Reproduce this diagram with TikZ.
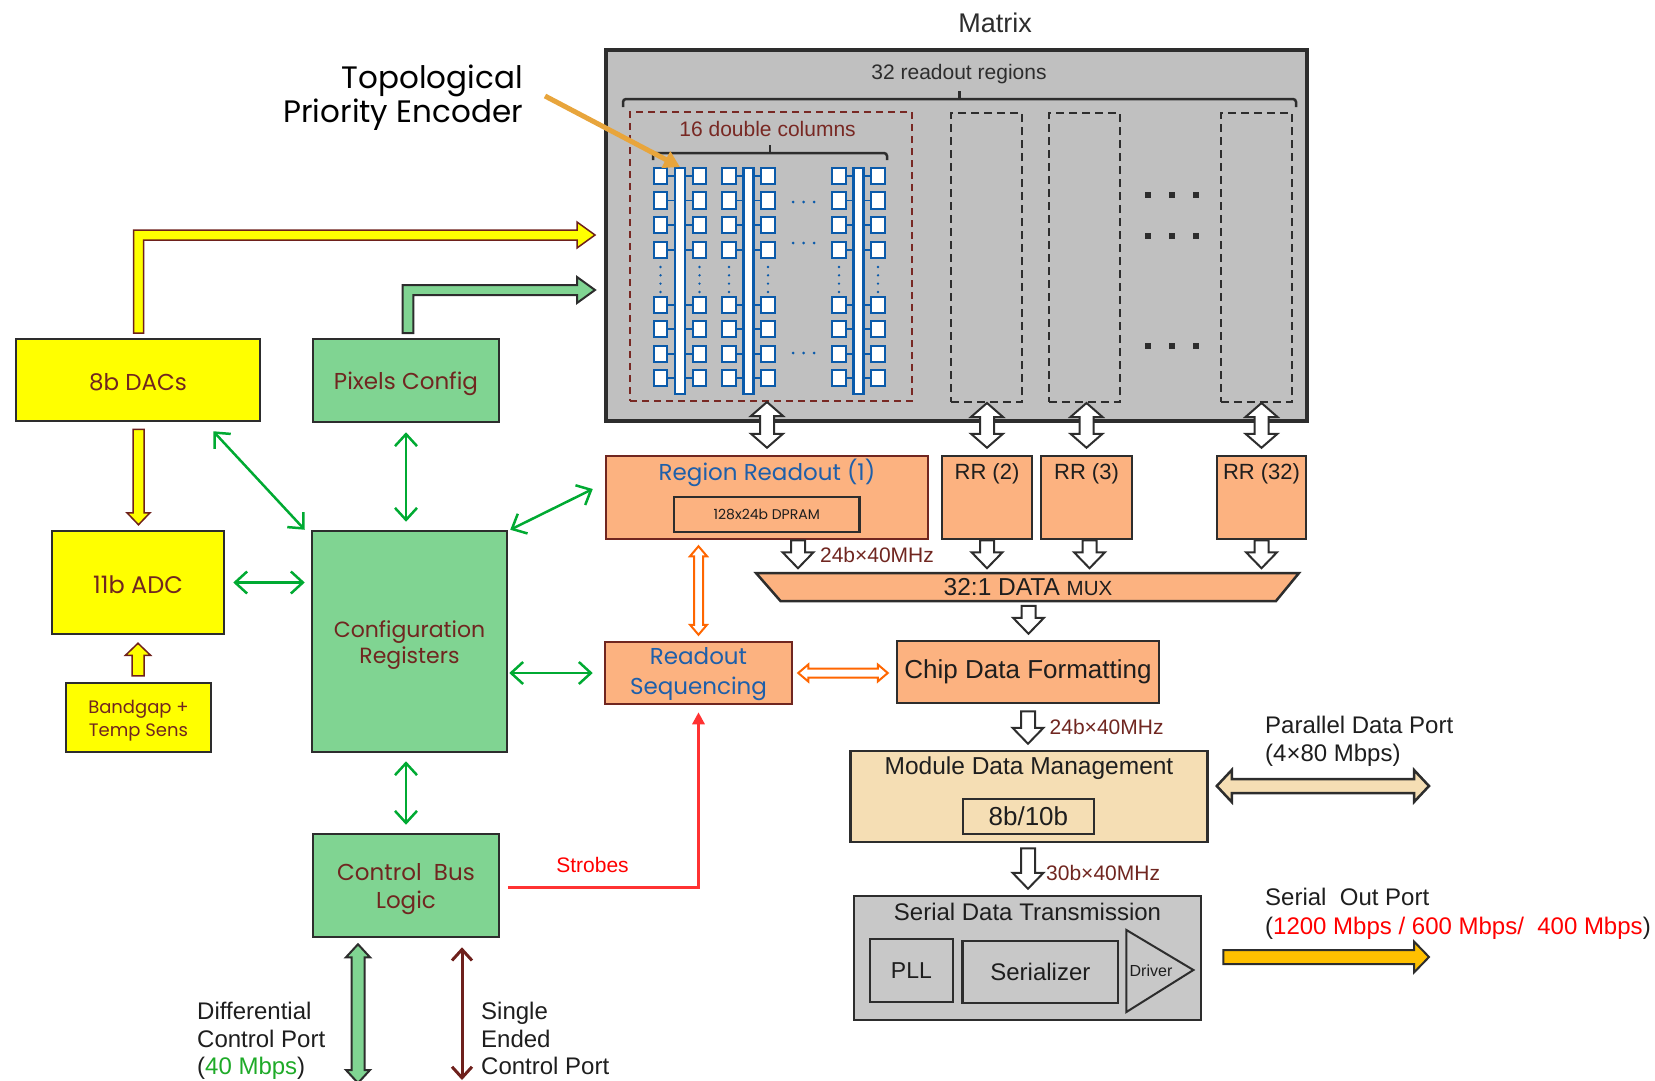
\documentclass[tikz,border=0pt]{standalone}
\usepackage{fontspec}
\setmainfont{Liberation Sans}
\newfontfamily\gothic{Poppins}
\usetikzlibrary{arrows.meta,calc}
\definecolor{bord}{RGB}{45,45,45}
\definecolor{tdark}{RGB}{30,30,30}
\definecolor{tbrown}{RGB}{112,38,32}
\definecolor{yfill}{RGB}{255,255,0}
\definecolor{gfill}{RGB}{128,212,146}
\definecolor{ofill}{RGB}{252,178,128}
\definecolor{wfill}{RGB}{245,222,180}
\definecolor{mgray}{RGB}{192,192,192}
\definecolor{sgray}{RGB}{200,200,200}
\definecolor{garr}{RGB}{0,170,50}
\definecolor{tgreen}{RGB}{30,170,40}
\definecolor{tblue}{RGB}{30,95,170}
\definecolor{pblue}{RGB}{10,90,170}
\definecolor{oarr}{RGB}{255,102,0}
\definecolor{rline}{RGB}{255,50,50}
\definecolor{tred}{RGB}{255,0,0}
\definecolor{gold}{RGB}{255,192,0}
\definecolor{tpecol}{RGB}{232,165,60}
\definecolor{darr}{RGB}{110,32,28}
\definecolor{rdash}{RGB}{120,40,35}
\newcommand{\fsz}[2]{\fontsize{#1}{#2}\selectfont}
% single-headed fat arrow: style, start, tip, shaft half width, head half width, head length
\newcommand{\FatArrow}[6][]{%
  \coordinate (faA) at #2; \coordinate (faB) at #3;
  \coordinate (faH) at ($(faB)!#6!(faA)$);
  \draw[#1] ($(faA)!#4!90:(faB)$) -- ($(faH)!#4!-90:(faA)$) -- ($(faH)!#5!-90:(faA)$) -- (faB)
    -- ($(faH)!#5!90:(faA)$) -- ($(faH)!#4!90:(faA)$) -- ($(faA)!#4!-90:(faB)$) -- cycle;}
% double-headed fat arrow
\newcommand{\FatDArrow}[6][]{%
  \coordinate (faA) at #2; \coordinate (faB) at #3;
  \coordinate (faH) at ($(faB)!#6!(faA)$); \coordinate (faG) at ($(faA)!#6!(faB)$);
  \draw[#1] (faA) -- ($(faG)!#5!90:(faB)$) -- ($(faG)!#4!90:(faB)$) -- ($(faH)!#4!-90:(faA)$)
    -- ($(faH)!#5!-90:(faA)$) -- (faB) -- ($(faH)!#5!90:(faA)$) -- ($(faH)!#4!90:(faA)$)
    -- ($(faG)!#4!-90:(faB)$) -- ($(faG)!#5!-90:(faB)$) -- cycle;}
\begin{document}
\begin{tikzpicture}[x=1pt,y=-1pt,
  box/.style={draw=bord, line width=2.5pt, inner sep=0pt, align=center},
  ybox/.style={box, fill=yfill, text=tbrown},
  gbox/.style={box, fill=gfill, text=tbrown},
  obox/.style={box, fill=ofill, text=tdark},
  gline/.style={draw=garr, line width=2.5pt, {Straight Barb[length=12pt,width=22pt]}-{Straight Barb[length=12pt,width=22pt]}},
  hollow/.style={draw=bord, fill=white, line width=2pt, line join=miter},
  oarrow/.style={draw=oarr, fill=white, line width=2pt},
  pixsq/.style={draw=pblue, fill=white, line width=2.2pt, inner sep=0pt},
  lab/.style={inner sep=0pt, text=tdark},
  blab/.style={inner sep=0pt, text=tbrown, align=center},
]
\useasboundingbox (0,0) rectangle (1655,1081);

% ---------------- Matrix ----------------
\node[draw=bord, line width=4pt, fill=mgray, minimum width=701, minimum height=371, inner sep=0pt] (matrix) at (956.5,235.5) {};
\node[lab, text=bord, font=\fsz{27}{30}] (mtitle) at (995,23) {Matrix};
\node[lab, text=bord, font=\fsz{21}{24}] (rrlab) at (959,74) {32 readout regions};
\draw[bord, line width=2.5pt, rounded corners=3pt] (623,107) -- (623,99) -- (1296,99) -- (1296,107);
\draw[bord, line width=2.5pt] (959.5,99) -- (959.5,91);
\node[draw=rdash, dash pattern=on 7pt off 5pt, line width=2pt, minimum width=282, minimum height=289, inner sep=0pt] (dcbox) at (771,256.5) {};
\node[lab, text=rdash, font=\fsz{21}{24}] (dclab) at (767.6,129) {16 double columns};
\draw[bord, line width=2.5pt, rounded corners=3pt] (653,160) -- (653,153) -- (887,153) -- (887,160);
\draw[bord, line width=2.5pt] (770,153) -- (770,145);
\foreach \cx/\nm in {986.5/ra, 1084.3/rb, 1256.4/rc}{
  \node[draw=bord, dash pattern=on 8pt off 5pt, line width=2pt, minimum width=71, minimum height=289, inner sep=0pt] (\nm) at (\cx,257.5) {};
}
\foreach \dy in {195,236,346}{
  \foreach \dx in {1148,1172,1196}{
    \fill[bord] (\dx-3,\dy-3) rectangle (\dx+3,\dy+3);
  }
}
% pixel array
\foreach \cx in {680,748.5,858.5}{
  \foreach \ry in {176,200.5,225,250,305,329,354,378}{
    \draw[pblue, line width=1.2pt] (\cx-12,\ry) -- (\cx+12,\ry);
    \node[pixsq, minimum width=13.5, minimum height=16.5] at (\cx-19.5,\ry) {};
    \node[pixsq, minimum width=13.5, minimum height=16.5] at (\cx+19.5,\ry) {};
  }
  \node[pixsq, minimum width=10, minimum height=226] at (\cx,281) {};
  \foreach \dx in {-19.5,19.5}{
    \foreach \dy in {267,275.3,283.6,292}{
      \fill[pblue] (\cx+\dx,\dy) circle (1.3);
    }
  }
}
\foreach \dy in {202,243,353}{
  \foreach \dx in {793,803.5,814}{
    \fill[pblue] (\dx,\dy) circle (1.5);
  }
}
% topological priority encoder
\node[lab, anchor=east, align=right, text=black, font={\gothic\fsz{31}{34}}] (tpe) at (523,98) {Topological\\Priority Encoder};
\coordinate (tpetip) at (680,167);
\draw[tpecol, line width=5pt, -{Triangle[length=16pt,width=18pt]}] (545,96) -- (tpetip);

% ---------------- left blocks ----------------
\node[ybox, minimum width=244, minimum height=82] (dac) at (138,380) {};
\node[blab, font={\gothic\fsz{23}{28}}] at ($(dac)+(0,2)$) {8b DACs};
\node[gbox, minimum width=186, minimum height=83] (pix) at (406,380.5) {};
\node[blab, font={\gothic\fsz{23}{28}}] at ($(pix)+(0,3)$) {Pixels Config};
\node[ybox, minimum width=172, minimum height=103] (adc) at (138,582.5) {};
\node[blab, font={\gothic\fsz{24}{28}}] at ($(adc)+(0,2)$) {11b ADC};
\node[ybox, minimum width=145, minimum height=69] (bg) at (138.5,717.5) {};
\node[blab, font={\gothic\fsz{18}{23}}] at ($(bg)+(0,3)$) {Bandgap +\\Temp Sens};
\node[gbox, minimum width=195, minimum height=221] (cfg) at (409.5,641.5) {};
\node[blab, font={\gothic\fsz{22}{26}}] at ($(cfg)+(0,4)$) {Configuration\\Registers};
\node[gbox, minimum width=186, minimum height=103] (cbl) at (406,885.5) {};
\node[blab, font={\gothic\fsz{23}{28}}] at ($(cbl)+(0,4)$) {Control\ \ Bus\\Logic};

% ---------------- readout blocks ----------------
\node[obox, draw=tbrown, minimum width=322, minimum height=83] (rr1) at (767,497.5) {};
\node[lab, text=tblue, font={\gothic\fsz{23}{28}}] (rr1lab) at (767,473) {Region Readout (1)};
\node[box, minimum width=185.5, minimum height=35, text=tdark, font={\gothic\fsz{14}{17}}] (dpram) at (766.75,514.5) {128x24b DPRAM};
\node[obox, minimum width=90, minimum height=83] (rr2) at (987,497.5) {};
\node[obox, minimum width=91, minimum height=83] (rr3) at (1086.5,497.5) {};
\node[obox, minimum width=89, minimum height=83] (rr32) at (1261.5,497.5) {};
\node[lab, font=\fsz{22}{26}] at ($(rr2.north)+(0,19)$) {RR (2)};
\node[lab, font=\fsz{22}{26}] at ($(rr3.north)+(0,19)$) {RR (3)};
\node[lab, font=\fsz{22}{26}] at ($(rr32.north)+(0,19)$) {RR (32)};
\draw[fill=ofill, draw=bord, line width=2.5pt] (756,573) -- (1299,573) -- (1276,601) -- (780.5,601) -- cycle;
\node[lab, font=\fsz{24.5}{28}] (mux) at (1028,587.5) {32:1 DATA {\fsz{20.5}{22}MUX}};
\node[obox, draw=tbrown, minimum width=187, minimum height=62] (rs) at (698.5,673) {};
\node[blab, text=tblue, font={\gothic\fsz{23}{30}}] at ($(rs)+(0,1)$) {Readout\\Sequencing};
\node[obox, minimum width=262, minimum height=62, font=\fsz{26}{30}] (cdf) at (1028,672) {Chip Data Formatting};
\node[box, fill=wfill, minimum width=357, minimum height=91] (mdm) at (1029,796.5) {};
\node[lab, font=\fsz{24.5}{28}] at ($(mdm.north)+(0,18)$) {Module Data Management};
\node[box, minimum width=131, minimum height=35, text=tdark, font=\fsz{26}{30}] (enc) at (1028.4,816.5) {8b/10b};
\node[box, fill=sgray, minimum width=347, minimum height=124] (sdt) at (1027.5,958) {};
\node[lab, font=\fsz{24}{28}] at ($(sdt.north)+(0,17)$) {Serial Data Transmission};
\node[box, minimum width=83, minimum height=63, text=tdark, font=\fsz{23}{26}] (pll) at (911.4,970.5) {PLL};
\node[box, minimum width=155.5, minimum height=62, text=tdark, font=\fsz{24}{28}] (ser) at (1040.4,972) {Serializer};
\draw[fill=sgray, draw=bord, line width=2pt] (1126.4,930) -- (1193.4,970) -- (1126.4,1012) -- cycle;
\node[lab, font=\fsz{16}{19}] (drv) at (1151,971) {Driver};

% ---------------- fat arrows ----------------
\draw[fill=yfill, draw=darr, line width=1.5pt] (133.5,333) -- (133.5,230) -- (577,230) -- (577,222) -- (595,235) -- (577,248) -- (577,240) -- (143.5,240) -- (143.5,333) -- cycle;
\draw[fill=gfill, draw=bord, line width=2pt] (402.7,333) -- (402.7,285) -- (577,285) -- (577,277) -- (595,290) -- (577,303) -- (577,295) -- (413.3,295) -- (413.3,333) -- cycle;
\FatArrow[fill=yfill, draw=darr, line width=1.5pt]{($(dac.south)+(0.5,7)$)}{($(adc.north)+(0.5,-5)$)}{5.5pt}{11.5pt}{12pt}
\FatArrow[fill=yfill, draw=darr, line width=1.5pt]{($(bg.north)+(-0.5,-6)$)}{($(adc.south)+(0,8)$)}{6pt}{12.5pt}{12pt}

\FatDArrow[hollow]{($(rr1.north |- dcbox.south)$)}{($(rr1.north)+(0,-7)$)}{7pt}{16pt}{14pt}
\FatDArrow[hollow]{($(rr2.north |- ra.south)$)}{($(rr2.north)+(0,-7)$)}{7pt}{16pt}{14pt}
\FatDArrow[hollow]{($(rr3.north |- rb.south)$)}{($(rr3.north)+(0,-7)$)}{7pt}{16pt}{14pt}
\FatDArrow[hollow]{($(rr32.north |- rc.south)$)}{($(rr32.north)+(0,-7)$)}{7pt}{16pt}{14pt}

\FatArrow[hollow]{($(rr1.south)+(31,0)$)}{($(rr1.south)+(31,28)$)}{7pt}{15.5pt}{16pt}
\FatArrow[hollow]{($(rr2.south)$)}{($(rr2.south)+(0,28)$)}{7pt}{15.5pt}{16pt}
\FatArrow[hollow]{($(rr3.south)+(3,0)$)}{($(rr3.south)+(3,28)$)}{7pt}{15.5pt}{16pt}
\FatArrow[hollow]{($(rr32.south)$)}{($(rr32.south)+(0,28)$)}{7pt}{15.5pt}{16pt}
\FatArrow[hollow]{($(cdf.north)+(0.5,-34)$)}{($(cdf.north)+(0.5,-6)$)}{7pt}{15.5pt}{16pt}
\FatArrow[hollow]{($(cdf.south)+(0,7)$)}{($(mdm.north)+(-1,-6)$)}{7pt}{15.5pt}{16pt}
\FatArrow[hollow]{($(mdm.south)+(-1,5)$)}{($(sdt.north)+(0.5,-6)$)}{7pt}{15.5pt}{16pt}

\node[lab, text=tbrown, font=\fsz{21}{24}] (r1) at (877,555) {24b×40MHz};
\node[lab, anchor=west, text=tbrown, font=\fsz{21}{24}] (r2) at (1049.5,727) {24b×40MHz};
\node[lab, anchor=west, text=tbrown, font=\fsz{21}{24}] (r3) at (1046,873) {30b×40MHz};

\FatDArrow[oarrow]{($(rr1.south -| rs.north)+(0,6)$)}{($(rs.north)+(0,-6)$)}{4.5pt}{8.5pt}{10pt}
\FatDArrow[oarrow]{($(rs.east)+(5,0)$)}{($(cdf.west |- rs.east)+(-8,0)$)}{4.5pt}{8.5pt}{10pt}

% output ports
\coordinate (pport) at (1429,786);
\coordinate (sport) at (1429,957);
\FatDArrow[fill=wfill, draw=bord, line width=2.5pt]{($(mdm.east |- pport)+(8,0)$)}{(pport)}{7pt}{16pt}{15pt}
\FatArrow[fill=gold, draw=bord, line width=2pt]{($(sdt.east |- sport)+(21,0)$)}{(sport)}{7pt}{15.5pt}{15pt}
\node[lab, anchor=west, align=left, font=\fsz{24}{28}] (plab) at (1265,741) {Parallel Data Port\\(4×80 Mbps)};
\node[lab, anchor=west, align=left, font=\fsz{24}{29}] (slab) at (1265,913.5) {Serial\ \ Out Port\\(\textcolor{tred}{1200 Mbps / 600 Mbps/\ \ 400 Mbps})};

% ---------------- thin arrows ----------------
\draw[gline] ($(dac.south east)+(-48,9)$) -- ($(cfg.north west)+(-6,0)$);
\draw[gline] ($(pix.south)+(0,9)$) -- ($(pix.south |- cfg.north)+(0,-8)$);
\draw[gline] ($(adc.east)+(8,0)$) -- ($(cfg.west |- adc.east)+(-6,0)$);
\draw[gline] ($(cfg.north east)+(2,0)$) -- ($(rr1.west)+(-12,-8.5)$);
\draw[gline] ($(cfg.east |- rs.west)+(1,0)$) -- ($(rs.west)+(-11,0)$);
\draw[gline] ($(cbl.north |- cfg.south)+(0,8)$) -- ($(cbl.north)+(0,-8)$);

\draw[rline, line width=3pt, -{Triangle[length=12pt,width=12pt]}] ($(cbl.east)+(8,1.5)$) -| ($(rs.south)+(0,7)$);
\node[lab, text=tred, font=\fsz{21}{24}] (strobes) at (592.5,865) {Strobes};

% control ports
\coordinate (dport) at (358,1083);
\coordinate (seport) at (462,1080);
\FatDArrow[fill=gfill, draw=bord, line width=2pt]{($(cbl.south)+(-48,6)$)}{(dport)}{6.5pt}{12pt}{13pt}
\draw[darr, line width=3pt, {Straight Barb[length=11pt,width=20pt]}-{Straight Barb[length=11pt,width=20pt]}] ($(cbl.south)+(56,9)$) -- (seport);
\node[lab, anchor=west, align=left, font=\fsz{24}{27.5}] (dlab) at (197,1041) {Differential\\Control Port\\(\textcolor{tgreen}{40 Mbps})};
\node[lab, anchor=west, align=left, font=\fsz{24}{27.5}] (selab) at (481,1038.5) {Single\\Ended\\Control Port};
\end{tikzpicture}
\end{document}
